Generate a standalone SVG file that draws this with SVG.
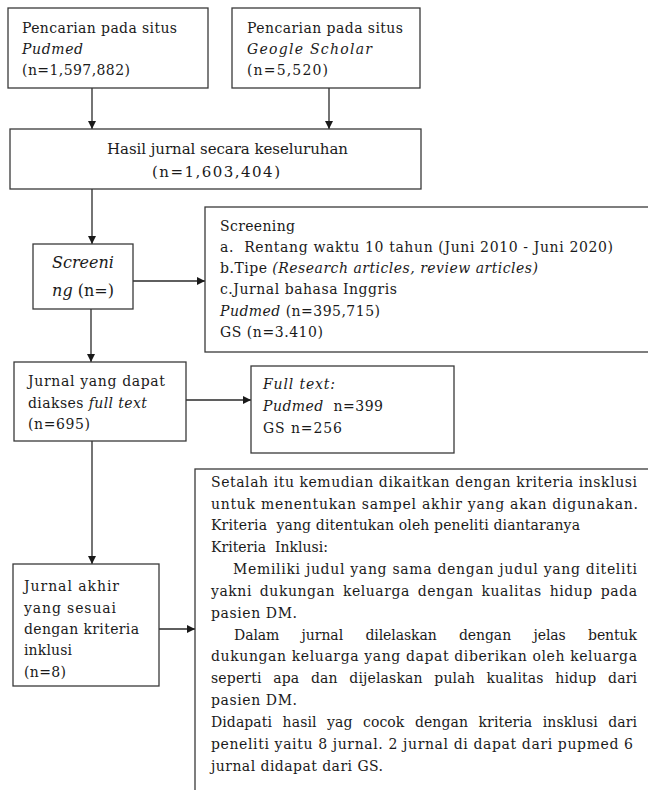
<svg xmlns="http://www.w3.org/2000/svg" width="648" height="790" viewBox="0 0 648 790">
<style>
.box{fill:#fff;stroke:#3a3a3a;stroke-width:1.3}
.ln{fill:none;stroke:#2a2a2a;stroke-width:1.3}
text{font-family:"DejaVu Serif","Liberation Serif",serif;font-size:14px;fill:#1a1a1a}
.i{font-style:italic}
.big{font-size:15px}
.scr{font-size:16px}
</style>
<defs>
<marker id="ah" viewBox="0 0 10 10" refX="10" refY="5" markerWidth="8" markerHeight="8" markerUnits="userSpaceOnUse" orient="auto">
<path d="M0,0 L10,5 L0,10 z" fill="#1a1a1a"/>
</marker>
</defs>
<rect width="648" height="790" fill="#fff"/>
<g id="connectors">
<line class="ln" x1="92" y1="88" x2="92" y2="129" marker-end="url(#ah)"/>
<line class="ln" x1="329" y1="88" x2="329" y2="129" marker-end="url(#ah)"/>
<line class="ln" x1="92" y1="189" x2="92" y2="244" marker-end="url(#ah)"/>
<line class="ln" x1="133" y1="281" x2="205" y2="281" marker-end="url(#ah)"/>
<line class="ln" x1="91" y1="309" x2="91" y2="362" marker-end="url(#ah)"/>
<line class="ln" x1="186" y1="400" x2="251" y2="400" marker-end="url(#ah)"/>
<line class="ln" x1="92" y1="441" x2="92" y2="564" marker-end="url(#ah)"/>
<line class="ln" x1="159" y1="629" x2="195" y2="629" marker-end="url(#ah)"/>
</g>
<g id="pubmed">
<rect class="box" x="8" y="8" width="200" height="80"/>
<text x="22" y="33" textLength="155" lengthAdjust="spacing">Pencarian pada situs</text>
<text x="22" y="54" class="i" textLength="61" lengthAdjust="spacing">Pudmed</text>
<text x="22" y="75" textLength="108" lengthAdjust="spacing">(n=1,597,882)</text>
</g>
<g id="scholar">
<rect class="box" x="232" y="8" width="188" height="80"/>
<text x="247" y="33" textLength="156" lengthAdjust="spacing">Pencarian pada situs</text>
<text x="247" y="54" class="i" textLength="125" lengthAdjust="spacing">Geogle Scholar</text>
<text x="247" y="75" textLength="81" lengthAdjust="spacing">(n=5,520)</text>
</g>
<g id="hasil">
<rect class="box" x="10" y="129" width="411" height="60"/>
<text x="107" y="154" class="big" textLength="241" lengthAdjust="spacing">Hasil jurnal secara keseluruhan</text>
<text x="152" y="177" class="big" textLength="128" lengthAdjust="spacing">(n=1,603,404)</text>
</g>
<g id="screening-node">
<rect class="box" x="33" y="244" width="100" height="65"/>
<text x="83" y="268" class="i scr" text-anchor="middle">Screeni</text>
<text x="83" y="296" class="scr" text-anchor="middle"><tspan class="i">ng</tspan> (n=)</text>
</g>
<g id="screening-criteria">
<rect class="box" x="205" y="207" width="460" height="145"/>
<text x="220" y="231" textLength="75" lengthAdjust="spacing">Screening</text>
<text x="220" y="252" textLength="393" lengthAdjust="spacing">a.&#160; Rentang waktu 10 tahun (Juni 2010 - Juni 2020)</text>
<text x="220" y="273" textLength="318" lengthAdjust="spacing">b.Tipe <tspan class="i">(Research articles, review articles)</tspan></text>
<text x="220" y="294" textLength="177" lengthAdjust="spacing">c.Jurnal bahasa Inggris</text>
<text x="220" y="316" textLength="160" lengthAdjust="spacing"><tspan class="i">Pudmed</tspan> (n=395,715)</text>
<text x="220" y="337" textLength="103" lengthAdjust="spacing">GS (n=3.410)</text>
</g>
<g id="fulltext-node">
<rect class="box" x="14" y="362" width="172" height="79"/>
<text x="28" y="386" textLength="137" lengthAdjust="spacing">Jurnal yang dapat</text>
<text x="28" y="408" textLength="119" lengthAdjust="spacing">diakses <tspan class="i">full text</tspan></text>
<text x="28" y="429" textLength="62" lengthAdjust="spacing">(n=695)</text>
</g>
<g id="fulltext-detail">
<rect class="box" x="251" y="366" width="203" height="87"/>
<text x="263" y="389" class="i" textLength="72" lengthAdjust="spacing">Full text:</text>
<text x="263" y="411" textLength="120" lengthAdjust="spacing"><tspan class="i">Pudmed</tspan>&#160; n=399</text>
<text x="263" y="433" textLength="79" lengthAdjust="spacing">GS n=256</text>
</g>
<g id="final-node">
<rect class="box" x="13" y="564" width="146" height="122"/>
<text x="24" y="591" textLength="95" lengthAdjust="spacing">Jurnal akhir</text>
<text x="24" y="613" textLength="92" lengthAdjust="spacing">yang sesuai</text>
<text x="24" y="634" textLength="115" lengthAdjust="spacing">dengan kriteria</text>
<text x="24" y="655" textLength="48" lengthAdjust="spacing">inklusi</text>
<text x="24" y="677" textLength="42" lengthAdjust="spacing">(n=8)</text>
</g>
<g id="inclusion-criteria">
<rect class="box" x="195" y="469" width="480" height="340"/>
<text x="211" y="487" textLength="426" lengthAdjust="spacing">Setalah itu kemudian dikaitkan dengan kriteria insklusi</text>
<text x="211" y="509" textLength="427" lengthAdjust="spacing">untuk menentukan sampel akhir yang akan digunakan.</text>
<text x="211" y="530" textLength="369" lengthAdjust="spacing">Kriteria&#160; yang ditentukan oleh peneliti diantaranya</text>
<text x="211" y="552">Kriteria&#160; Inklusi:</text>
<text x="233" y="574" textLength="404" lengthAdjust="spacing">Memiliki judul yang sama dengan judul yang diteliti</text>
<text x="211" y="596" word-spacing="3" textLength="426" lengthAdjust="spacing">yakni dukungan keluarga dengan kualitas hidup pada</text>
<text x="211" y="618" textLength="86" lengthAdjust="spacing">pasien DM.</text>
<text x="234" y="640" word-spacing="18" textLength="403" lengthAdjust="spacing">Dalam jurnal dilelaskan dengan jelas bentuk</text>
<text x="211" y="661" textLength="426" lengthAdjust="spacing">dukungan keluarga yang dapat diberikan oleh keluarga</text>
<text x="211" y="683" word-spacing="7" textLength="426" lengthAdjust="spacing">seperti apa dan dijelaskan pulah kualitas hidup dari</text>
<text x="211" y="705" textLength="86" lengthAdjust="spacing">pasien DM.</text>
<text x="211" y="727" word-spacing="6" textLength="426" lengthAdjust="spacing">Didapati hasil yag cocok dengan kriteria insklusi dari</text>
<text x="211" y="749" textLength="422" lengthAdjust="spacing">peneliti yaitu 8 jurnal. 2 jurnal di dapat dari pupmed 6</text>
<text x="211" y="771" textLength="172" lengthAdjust="spacing">jurnal didapat dari GS.</text>
</g>
</svg>
